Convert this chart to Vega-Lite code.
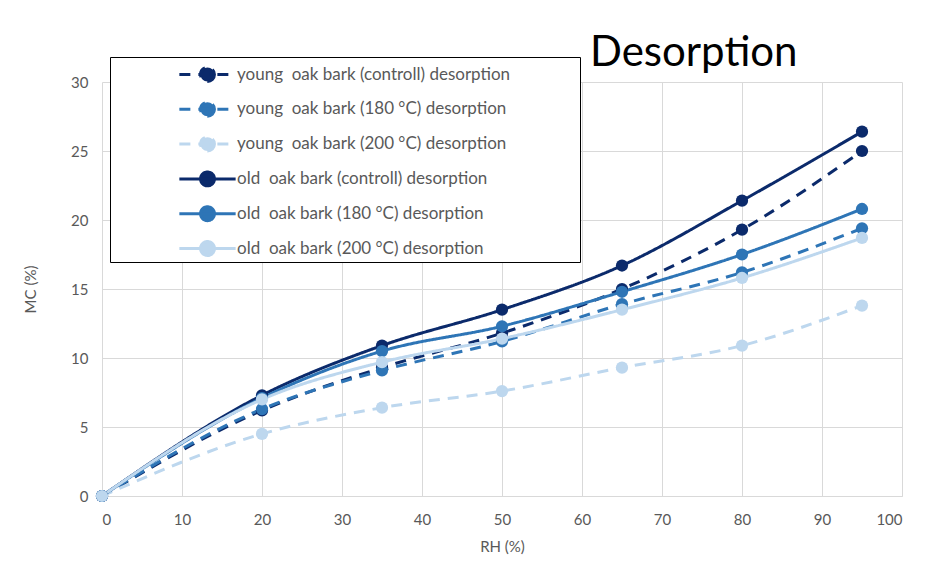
{
  "$schema": "https://vega.github.io/schema/vega-lite/v6.json",
  "width": 800,
  "height": 414,
  "autosize": {"type": "none"},
  "padding": {"left": 102, "top": 82, "right": 47, "bottom": 74},
  "background": "white",
  "title": {
    "text": "Desorption",
    "anchor": "start",
    "frame": "group",
    "dx": 488,
    "dy": 67,
    "offset": 16,
    "baseline": "alphabetic",
    "font": "Lato",
    "fontSize": 42,
    "fontWeight": "normal",
    "color": "#000000"
  },
  "data": {
    "values": [
      {"series": "young  oak bark (controll) desorption", "RH": 0, "MC": 0},
      {"series": "young  oak bark (controll) desorption", "RH": 20, "MC": 6.2},
      {"series": "young  oak bark (controll) desorption", "RH": 35, "MC": 9.3},
      {"series": "young  oak bark (controll) desorption", "RH": 50, "MC": 11.8},
      {"series": "young  oak bark (controll) desorption", "RH": 65, "MC": 15.0},
      {"series": "young  oak bark (controll) desorption", "RH": 80, "MC": 19.3},
      {"series": "young  oak bark (controll) desorption", "RH": 95, "MC": 25.0},
      {"series": "young  oak bark (180 °C) desorption", "RH": 0, "MC": 0},
      {"series": "young  oak bark (180 °C) desorption", "RH": 20, "MC": 6.3},
      {"series": "young  oak bark (180 °C) desorption", "RH": 35, "MC": 9.1},
      {"series": "young  oak bark (180 °C) desorption", "RH": 50, "MC": 11.2},
      {"series": "young  oak bark (180 °C) desorption", "RH": 65, "MC": 13.9},
      {"series": "young  oak bark (180 °C) desorption", "RH": 80, "MC": 16.2},
      {"series": "young  oak bark (180 °C) desorption", "RH": 95, "MC": 19.4},
      {"series": "young  oak bark (200 °C) desorption", "RH": 0, "MC": 0},
      {"series": "young  oak bark (200 °C) desorption", "RH": 20, "MC": 4.5},
      {"series": "young  oak bark (200 °C) desorption", "RH": 35, "MC": 6.4},
      {"series": "young  oak bark (200 °C) desorption", "RH": 50, "MC": 7.6},
      {"series": "young  oak bark (200 °C) desorption", "RH": 65, "MC": 9.3},
      {"series": "young  oak bark (200 °C) desorption", "RH": 80, "MC": 10.9},
      {"series": "young  oak bark (200 °C) desorption", "RH": 95, "MC": 13.8},
      {"series": "old  oak bark (controll) desorption", "RH": 0, "MC": 0},
      {"series": "old  oak bark (controll) desorption", "RH": 20, "MC": 7.3},
      {"series": "old  oak bark (controll) desorption", "RH": 35, "MC": 10.9},
      {"series": "old  oak bark (controll) desorption", "RH": 50, "MC": 13.5},
      {"series": "old  oak bark (controll) desorption", "RH": 65, "MC": 16.7},
      {"series": "old  oak bark (controll) desorption", "RH": 80, "MC": 21.4},
      {"series": "old  oak bark (controll) desorption", "RH": 95, "MC": 26.4},
      {"series": "old  oak bark (180 °C) desorption", "RH": 0, "MC": 0},
      {"series": "old  oak bark (180 °C) desorption", "RH": 20, "MC": 7.1},
      {"series": "old  oak bark (180 °C) desorption", "RH": 35, "MC": 10.5},
      {"series": "old  oak bark (180 °C) desorption", "RH": 50, "MC": 12.3},
      {"series": "old  oak bark (180 °C) desorption", "RH": 65, "MC": 14.8},
      {"series": "old  oak bark (180 °C) desorption", "RH": 80, "MC": 17.5},
      {"series": "old  oak bark (180 °C) desorption", "RH": 95, "MC": 20.8},
      {"series": "old  oak bark (200 °C) desorption", "RH": 0, "MC": 0},
      {"series": "old  oak bark (200 °C) desorption", "RH": 20, "MC": 7.0},
      {"series": "old  oak bark (200 °C) desorption", "RH": 35, "MC": 9.7},
      {"series": "old  oak bark (200 °C) desorption", "RH": 50, "MC": 11.4},
      {"series": "old  oak bark (200 °C) desorption", "RH": 65, "MC": 13.5},
      {"series": "old  oak bark (200 °C) desorption", "RH": 80, "MC": 15.8},
      {"series": "old  oak bark (200 °C) desorption", "RH": 95, "MC": 18.7}
    ]
  },
  "encoding": {
    "x": {
      "field": "RH",
      "type": "quantitative",
      "title": "RH (%)",
      "scale": {"domain": [0, 100], "nice": false},
      "axis": {"values": [0, 10, 20, 30, 40, 50, 60, 70, 80, 90, 100], "labelPadding": 16, "titlePadding": 12}
    },
    "y": {
      "field": "MC",
      "type": "quantitative",
      "title": "MC (%)",
      "scale": {"domain": [0, 30], "nice": false},
      "axis": {"values": [0, 5, 10, 15, 20, 25, 30], "labelPadding": 14, "titlePadding": 32, "domain": false}
    },
    "color": {
      "field": "series",
      "type": "nominal",
      "scale": {
        "domain": [
          "young  oak bark (controll) desorption",
          "young  oak bark (180 °C) desorption",
          "young  oak bark (200 °C) desorption",
          "old  oak bark (controll) desorption",
          "old  oak bark (180 °C) desorption",
          "old  oak bark (200 °C) desorption"
        ],
        "range": ["#0b2a6b", "#2e75b6", "#bdd7ee", "#0b2a6b", "#2e75b6", "#bdd7ee"]
      },
      "legend": {
        "labelExpr": "replace(datum.label, '  ', ' \u00a0') + '\u00a0\u00a0\u00a0\u00a0\u00a0\u00a0\u00a0\u00a0\u00a0\u00a0\u00a0\u00a0\u00a0\u00a0\u00a0\u00a0\u200b'",
        "encode": {
          "symbols": {"update": {"fill": {"scale": "color", "field": "value"}, "fillOpacity": {"value": 1}}}
        }
      }
    }
  },
  "layer": [
    {
      "mark": {"type": "line", "interpolate": "monotone", "strokeWidth": 3},
      "encoding": {
        "strokeDash": {
          "field": "series",
          "type": "nominal",
          "scale": {
            "domain": [
              "young  oak bark (controll) desorption",
              "young  oak bark (180 °C) desorption",
              "young  oak bark (200 °C) desorption",
              "old  oak bark (controll) desorption",
              "old  oak bark (180 °C) desorption",
              "old  oak bark (200 °C) desorption"
            ],
            "range": [[11, 8], [11, 8], [11, 8], [1, 0], [1, 0], [1, 0]]
          }
        }
      }
    },
    {
      "mark": {"type": "point", "filled": true, "size": 150, "opacity": 1}
    }
  ],
  "config": {
    "font": "Lato",
    "view": {"stroke": null},
    "axis": {
      "grid": true,
      "gridColor": "#d9d9d9",
      "gridWidth": 1,
      "domainColor": "#d9d9d9",
      "ticks": false,
      "labelFont": "Lato",
      "labelFontSize": 15,
      "labelColor": "#595959",
      "titleFont": "Lato",
      "titleFontSize": 15,
      "titleFontWeight": "normal",
      "titleColor": "#595959"
    },
    "legend": {
      "orient": "none",
      "legendX": 8,
      "legendY": -25,
      "title": null,
      "strokeColor": "#000000",
      "fillColor": "#ffffff",
      "padding": 0,
      "rowPadding": 3.8,
      "symbolType": "M-1.78,0L1.78,0M0.44,0A0.44,0.44,0,1,1,-0.44,0A0.44,0.44,0,1,1,0.44,0Z",
      "symbolSize": 1000,
      "symbolStrokeWidth": 3,
      "symbolOffset": 80,
      "labelOffset": 12,
      "labelFont": "Lato",
      "labelFontSize": 17,
      "labelColor": "#595959",
      "labelLimit": 600
    }
  }
}
